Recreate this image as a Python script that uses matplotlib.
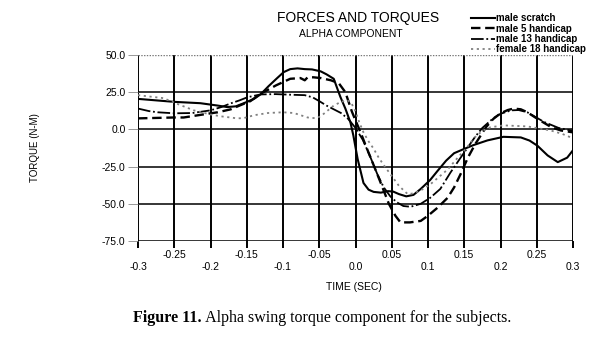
import matplotlib
matplotlib.use("Agg")
import matplotlib.pyplot as plt

# ---- data ----
x_scratch = [-0.30, -0.25, -0.214, -0.19, -0.177, -0.165, -0.154, -0.14, -0.131, -0.12, -0.108, -0.099,
             -0.09, -0.08, -0.07, -0.06, -0.048, -0.04, -0.03, -0.021, -0.014, -0.007, -0.003, 0.003,
             0.011, 0.018, 0.025, 0.035, 0.045, 0.052, 0.06, 0.07, 0.08, 0.09, 0.103, 0.113, 0.125,
             0.136, 0.148, 0.163, 0.182, 0.204, 0.228, 0.24, 0.251, 0.265, 0.279, 0.292, 0.30]
y_scratch = [20.5, 18.5, 17.6, 16.0, 15.0, 15.5, 17.6, 20.5, 23.5, 29.0, 34.5, 38.5,
             40.5, 41.0, 40.5, 40.3, 39.0, 37.0, 34.0, 22.0, 14.0, 4.7, -4.0, -20.0,
             -36.0, -40.5, -42.0, -42.5, -41.5, -41.8, -43.5, -45.0, -44.0, -40.0, -34.0, -28.0, -21.0,
             -16.0, -13.5, -10.5, -7.4, -5.0, -5.4, -7.5, -11.0, -17.5, -22.0, -19.0, -14.0]

x_m5 = [-0.30, -0.25, -0.237, -0.2, -0.19, -0.172, -0.16, -0.145, -0.131, -0.121, -0.11, -0.099, -0.09,
        -0.076, -0.07, -0.066, -0.058, -0.048, -0.034, -0.023, -0.014, -0.005, 0.0, 0.007, 0.015, 0.025,
        0.034, 0.046, 0.055, 0.062, 0.075, 0.09, 0.10, 0.113, 0.127, 0.136, 0.145, 0.155, 0.165, 0.18,
        0.19, 0.20, 0.21, 0.218, 0.228, 0.237, 0.248, 0.259, 0.27, 0.283, 0.30]
y_m5 = [7.4, 8.0, 8.0, 10.8, 11.5, 13.5, 16.0, 19.0, 24.0, 26.5, 29.5, 32.0, 34.0,
        34.5, 33.0, 35.0, 35.0, 34.5, 33.0, 31.0, 25.0, 12.0, 6.0, -2.0, -12.0, -24.0,
        -35.0, -50.0, -58.0, -62.5, -62.5, -61.5, -58.0, -52.7, -46.0, -39.0, -30.0, -19.0, -10.0, 1.5,
        7.0, 10.8, 13.0, 14.0, 13.5, 11.5, 8.0, 4.7, 1.5, -0.7, -2.0]

x_m13 = [-0.30, -0.285, -0.273, -0.25, -0.225, -0.2, -0.185, -0.172, -0.16, -0.149, -0.131, -0.11, -0.09,
         -0.07, -0.059, -0.05, -0.04, -0.03, -0.02, -0.01, 0.0, 0.01, 0.02, 0.03, 0.039, 0.048, 0.057,
         0.066, 0.076, 0.09, 0.103, 0.117, 0.131, 0.145, 0.155, 0.165, 0.175, 0.19, 0.20, 0.215, 0.225,
         0.237, 0.26, 0.28, 0.30]
y_m13 = [14.0, 12.3, 11.5, 10.8, 11.0, 12.8, 15.0, 17.5, 19.5, 21.6, 23.5, 23.7, 23.3,
         23.0, 21.5, 19.0, 16.0, 13.5, 11.0, 7.0, 1.0, -7.0, -18.0, -30.0, -39.0, -45.0, -49.0,
         -51.5, -52.0, -50.0, -46.0, -40.0, -29.0, -19.0, -12.0, -5.0, 1.0, 7.5, 10.5, 12.8, 13.0,
         11.5, 5.0, 1.0, -1.0]

x_f18 = [-0.30, -0.265, -0.245, -0.223, -0.2, -0.186, -0.163, -0.154, -0.14, -0.121, -0.10, -0.085,
         -0.066, -0.055, -0.048, -0.04, -0.03, -0.02, -0.011, -0.005, 0.0, 0.005, 0.011, 0.018, 0.025,
         0.032, 0.039, 0.048, 0.06, 0.072, 0.08, 0.09, 0.103, 0.115, 0.127, 0.141, 0.154, 0.163, 0.175,
         0.186, 0.204, 0.237, 0.269, 0.285, 0.30]
y_f18 = [23.0, 21.0, 17.0, 12.8, 10.0, 8.8, 7.4, 7.6, 9.5, 11.0, 11.5, 11.0,
         8.0, 7.5, 8.8, 12.0, 16.0, 18.5, 19.6, 17.0, 12.0, 5.0, -2.0, -8.0, -13.0,
         -19.0, -24.0, -30.0, -38.0, -43.5, -43.0, -41.0, -37.0, -32.0, -27.0, -19.0, -12.0, -6.0, -1.0,
         1.4, 2.7, 2.0, -0.7, -3.0, -6.0]

series_labels = ["male scratch", "male 5 handicap", "male 13 handicap", "female 18 handicap"]
x_ticks = [-0.3, -0.25, -0.2, -0.15, -0.1, -0.05, 0.0, 0.05, 0.1, 0.15, 0.2, 0.25, 0.3]
x_ticklabels = ["-0.3", "-0.25", "-0.2", "-0.15", "-0.1", "-0.05", "0.0", "0.05", "0.1", "0.15", "0.2", "0.25", "0.3"]
y_ticks = [-75, -50, -25, 0, 25, 50]
y_ticklabels = ["-75.0", "-50.0", "-25.0", "0.0", "25.0", "50.0"]

# ---- figure ----
plt.rcParams['font.family'] = ['Liberation Sans', 'DejaVu Sans']
fig = plt.figure(figsize=(6.0, 3.43), dpi=100)
ax = fig.add_axes([0.23, 0.2974, 0.725, 0.5423])

ax.set_xlim(-0.3, 0.3)
ax.set_ylim(-75, 50)

# grid
for xv in x_ticks:
    ax.axvline(xv, color='black', lw=1.4, zorder=1)
for yv in y_ticks:
    if yv == 50:
        ax.axhline(yv, color='#777777', lw=1.0, ls=(0, (1, 1)), zorder=1)
    else:
        ax.axhline(yv, color='black', lw=1.1, zorder=1)

for s in ax.spines.values():
    s.set_visible(False)

l1, = ax.plot(x_scratch, y_scratch, color='black', lw=1.5, zorder=3)
l2, = ax.plot(x_m5, y_m5, color='black', lw=1.7, dashes=(4.0, 2.0), zorder=3)
l3, = ax.plot(x_m13, y_m13, color='black', lw=1.3, dashes=(7.0, 1.5, 1.0, 1.5), zorder=3)
l4, = ax.plot(x_f18, y_f18, color='#808080', lw=1.3, dashes=(1.2, 2.0), zorder=3)

ax.set_xticks(x_ticks)
ax.set_xticklabels(x_ticklabels, fontsize=7.5)
ax.tick_params(axis='x', direction='out', length=5, width=1.4, color='black')
for i, t in enumerate(ax.xaxis.get_major_ticks()):
    t.set_pad(1.5 if i % 2 == 1 else 10)

ax.set_yticks(y_ticks)
ax.set_yticklabels(y_ticklabels, fontsize=7.5)
ax.tick_params(axis='y', direction='out', length=7, width=0.6, color='#888888', pad=2)

fig.text(0.058, 0.5686, "TORQUE (N-M)", rotation=90, ha='center', va='center', fontsize=7)
fig.text(0.59, 1 - 287 / 343, "TIME (SEC)", ha='center', va='center', fontsize=7.5)
fig.text(0.597, 1 - 18 / 343, "FORCES AND TORQUES", ha='center', va='center', fontsize=10)
fig.text(0.585, 1 - 34 / 343, "ALPHA COMPONENT", ha='center', va='center', fontsize=7.5)

leg = fig.legend([l1, l2, l3, l4], series_labels, loc='upper left', bbox_to_anchor=(0.775, 0.979),
                 frameon=False, fontsize=7, handlelength=2.5, handletextpad=0.1,
                 labelspacing=0.05, borderaxespad=0.3, borderpad=0.3)
for t in leg.get_texts():
    t.set_fontweight('bold')

cap = fig.text(133 / 600, 1 - 318 / 343, "Figure 11.", ha='left', va='center',
               fontsize=11.5, family='Liberation Serif', fontweight='bold')
ax.annotate(" Alpha swing torque component for the subjects.", xy=(1.0, 0.5), xycoords=cap,
            ha='left', va='center', fontsize=11.5, family='Liberation Serif', annotation_clip=False)

fig.savefig("out.png", dpi=100)
